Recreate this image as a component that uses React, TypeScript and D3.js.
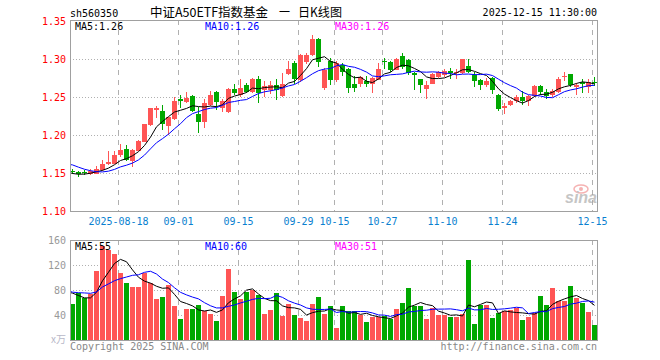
import React from "react";
import * as d3 from "d3";

const dates = [
  "08-06","08-07","08-08","08-11","08-12","08-13","08-14","08-15","08-18","08-19","08-20","08-21","08-22","08-25","08-26","08-27","08-28","08-29",
  "09-01","09-02","09-03","09-04","09-05","09-08","09-09","09-10","09-11","09-12","09-15","09-16","09-17","09-18","09-19","09-22","09-23","09-24","09-25","09-26","09-29","09-30",
  "10-09","10-10","10-13","10-14","10-15","10-16","10-17","10-20","10-21","10-22","10-23","10-24","10-27","10-28","10-29","10-30","10-31",
  "11-03","11-04","11-05","11-06","11-07","11-10","11-11","11-12","11-13","11-14","11-17","11-18","11-19","11-20","11-21","11-24","11-25","11-26","11-27","11-28",
  "12-01","12-02","12-03","12-04","12-05","12-08","12-09","12-10","12-11","12-12","12-15",
];

const open = [
  1.1531,1.1513,1.1518,1.1496,1.1504,1.1548,1.1627,1.1636,1.1746,1.1811,
  1.1671,1.1803,1.1921,1.2140,1.2338,1.2311,1.2127,1.2228,1.2474,1.2447,
  1.2513,1.2272,1.2184,1.2404,1.2566,1.2370,1.2316,1.2610,1.2544,1.2654,
  1.2579,1.2741,1.2601,1.2610,1.2654,1.2522,1.2811,1.2952,1.2732,1.2974,
  1.3061,1.3268,1.2636,1.2974,1.2741,1.2917,1.2873,1.2667,1.2689,1.2711,
  1.2680,1.2741,1.2978,1.2961,1.2873,1.3039,1.2987,1.2820,1.2732,1.2623,
  1.2689,1.2776,1.2798,1.2838,1.2825,1.2829,1.2908,1.2785,1.2724,1.2675,
  1.2754,1.2522,1.2368,1.2404,1.2460,1.2500,1.2460,1.2526,1.2645,1.2570,
  1.2535,1.2579,1.2772,1.2798,1.2649,1.2697,1.2645,1.2702,
];
const high = [
  1.1557,1.1530,1.1540,1.1550,1.1592,1.1670,1.1785,1.1785,1.1877,1.1864,
  1.1810,1.1940,1.2150,1.2360,1.2380,1.2390,1.2240,1.2500,1.2522,1.2566,
  1.2522,1.2373,1.2470,1.2579,1.2575,1.2470,1.2618,1.2667,1.2741,1.2680,
  1.2750,1.2776,1.2711,1.2711,1.2741,1.2811,1.2969,1.2974,1.3061,1.3075,
  1.3311,1.3276,1.2886,1.3018,1.2974,1.2952,1.2886,1.2776,1.2776,1.2776,
  1.2763,1.2943,1.3018,1.2974,1.3018,1.3075,1.2996,1.2829,1.2741,1.2711,
  1.2820,1.2842,1.2864,1.2886,1.2864,1.3004,1.3004,1.2829,1.2741,1.2754,
  1.2763,1.2535,1.2425,1.2456,1.2522,1.2579,1.2522,1.2654,1.2654,1.2610,
  1.2610,1.2763,1.2833,1.2807,1.2689,1.2732,1.2741,1.2763,
];
const low = [
  1.1496,1.1461,1.1490,1.1490,1.1500,1.1540,1.1620,1.1630,1.1730,1.1670,
  1.1590,1.1800,1.1917,1.2130,1.2240,1.2083,1.2018,1.2215,1.2368,1.2438,
  1.2310,1.2039,1.2110,1.2395,1.2346,1.2320,1.2307,1.2535,1.2513,1.2566,
  1.2570,1.2434,1.2513,1.2557,1.2478,1.2513,1.2798,1.2689,1.2711,1.2952,
  1.3048,1.2908,1.2610,1.2667,1.2711,1.2785,1.2566,1.2579,1.2645,1.2645,
  1.2566,1.2732,1.2886,1.2842,1.2864,1.2886,1.2798,1.2610,1.2566,1.2491,
  1.2680,1.2768,1.2776,1.2754,1.2754,1.2820,1.2829,1.2645,1.2601,1.2645,
  1.2548,1.2325,1.2294,1.2395,1.2430,1.2404,1.2390,1.2513,1.2544,1.2482,
  1.2513,1.2566,1.2724,1.2645,1.2544,1.2566,1.2566,1.2654,
];
const close = [
  1.1522,1.1500,1.1509,1.1526,1.1557,1.1614,1.1649,1.1732,1.1803,1.1680,
  1.1803,1.1917,1.2140,1.2351,1.2360,1.2154,1.2237,1.2443,1.2465,1.2482,
  1.2329,1.2184,1.2417,1.2522,1.2447,1.2450,1.2610,1.2566,1.2623,1.2579,
  1.2741,1.2566,1.2645,1.2654,1.2601,1.2675,1.2873,1.2754,1.3048,1.3048,
  1.3259,1.2974,1.2855,1.2732,1.2952,1.2842,1.2636,1.2636,1.2768,1.2689,
  1.2754,1.2873,1.2969,1.2873,1.3004,1.2908,1.2829,1.2798,1.2667,1.2654,
  1.2798,1.2829,1.2842,1.2825,1.2833,1.2996,1.2842,1.2724,1.2675,1.2711,
  1.2610,1.2351,1.2377,1.2447,1.2504,1.2456,1.2513,1.2645,1.2579,1.2526,
  1.2579,1.2741,1.2781,1.2667,1.2658,1.2680,1.2697,1.2693,
];
const volume = [
  58,76,68,74,110,150,144,138,107,91,
  85,85,107,91,66,69,88,55,34,50,
  50,56,46,42,31,70,113,77,66,77,
  80,72,42,48,76,39,58,40,36,31,
  58,69,42,55,20,55,47,47,40,29,
  37,37,39,34,50,60,84,55,55,34,
  51,40,40,37,37,42,128,26,56,56,
  35,43,47,48,51,32,37,43,70,56,
  83,62,62,86,67,59,45,24,
];

// closes / volumes of the 29 sessions before the window (needed for MA warm-up)
const priorCloses = [
  1.108,1.110,1.112,1.115,1.117,1.120,1.124,
  1.128,1.130,1.133,1.135,1.138,1.140,1.142,1.144,1.146,1.149,1.152,1.156,1.163,
  1.180,1.178,1.172,1.168,1.165,1.155,1.150,1.147,1.146,
];
const priorVolumes = [
  72,85,78,70,88,82,76,84,
  90,105,98,88,110,95,102,92,86,100,94,90,
  85,72,80,88,70,95,87,74,65,
];

const tickDates = ["08-18","09-01","09-15","09-29","10-15","10-27","11-10","11-24","12-15"];
const tickLabels = ["2025-08-18","09-01","09-15","09-29","10-15","10-27","11-10","11-24","12-15"];
const priceTicks = [1.10, 1.15, 1.20, 1.25, 1.30, 1.35];
const volumeTicks = [40, 80, 120, 160];
const maPeriods = [5, 10, 30];
const priceMaLabels = ["MA5:1.26", "MA10:1.26", "MA30:1.26"];
const volumeMaLabels = ["MA5:55", "MA10:60", "MA30:51"];
const titleParts = ["中证A50ETF指数基金", "一", "日K线图"];

const MONO = "'DejaVu Sans Mono', monospace";
const CJK = "'Noto Sans CJK SC', sans-serif";
const RED = "#ff5555";
const GREEN = "#00a800";
const MA_COLORS = ["#000000", "#0000ff", "#ff00ff"];
const BORDER = "#a0a0a0";
const GRID = "#b0b0b0";

const L = 70, R = 597;
const PT = 20, PB = 211;
const VT = 240, VB = 340;

function movingAverage(prior: number[], data: number[], n: number) {
  const all = prior.concat(data);
  const off = prior.length;
  const out: { k: number; v: number }[] = [];
  for (let k = -1; k < data.length; k++) {
    const end = off + k;
    const slice = all.slice(end - n + 1, end + 1);
    out.push({ k, v: d3.mean(slice) as number });
  }
  return out;
}

export default function App() {
  const n = dates.length;
  const x = d3.scaleBand<number>().domain(d3.range(n)).range([L, R]).paddingInner(1 / 6).paddingOuter(0);
  const step = x.step();
  const bw = x.bandwidth();
  const cx = (k: number) => (x(0) as number) + k * step + bw / 2;
  const yP = d3.scaleLinear().domain([1.10, 1.35]).range([PB + 0.5, PT + 1.5]);
  const yV = d3.scaleLinear().domain([0, 160]).range([VB + 0.5, VT + 0.5]);

  const priceMA = maPeriods.map((p) => movingAverage(priorCloses, close, p));
  const volMA = maPeriods.map((p) => movingAverage(priorVolumes, volume, p));
  const lineP = d3.line<{ k: number; v: number }>().x((d) => cx(d.k)).y((d) => yP(d.v));
  const lineV = d3.line<{ k: number; v: number }>().x((d) => cx(d.k)).y((d) => yV(d.v));

  const tickIdx = tickDates.map((t) => dates.indexOf(t));
  const titleX = [150, 279, 298];
  const titleW = [118, 11, 44];

  return (
    <svg width={660} height={360} style={{ position: "absolute", left: 0, top: 0, background: "#fff" }}>
      <defs>
        <clipPath id="clipP"><rect x={L + 1} y={PT + 1} width={R - L - 1} height={PB - PT - 1} /></clipPath>
        <clipPath id="clipV"><rect x={L + 1} y={VT + 1} width={R - L - 1} height={VB - VT - 1} /></clipPath>
      </defs>

      {/* header */}
      <text x={70} y={16.5} fontFamily={MONO} fontSize={10} fill="#000">sh560350</text>
      {titleParts.map((s, j) => (
        <text key={"t" + j} x={titleX[j]} y={17} fontFamily={CJK} fontSize={12.5} fill="#000"
          textLength={titleW[j]} lengthAdjust="spacingAndGlyphs">{s}</text>
      ))}
      <text x={597} y={16} fontFamily={MONO} fontSize={10} fill="#000" textAnchor="end">2025-12-15 11:30:00</text>

      {/* price panel grid */}
      {priceTicks.filter((t) => t > 1.1 && t < 1.35).map((t) => (
        <line key={"pg" + t} x1={L} x2={R} y1={Math.floor(yP(t)) + 0.5} y2={Math.floor(yP(t)) + 0.5}
          stroke={GRID} strokeDasharray="1,2" shapeRendering="crispEdges" />
      ))}
      {tickIdx.map((i, j) => (
        <line key={"pv" + j} x1={(x(i) as number) + 0.5} x2={(x(i) as number) + 0.5} y1={PT} y2={PB}
          stroke={GRID} strokeDasharray="5,5" shapeRendering="crispEdges" />
      ))}
      {priceTicks.map((t) => (
        <text key={"pl" + t} x={66} y={yP(t) + 3.6} fontFamily={MONO} fontSize={10} fill="#ff0000" textAnchor="end">
          {t.toFixed(2)}
        </text>
      ))}
      {tickIdx.map((i, j) => (
        <text key={"xl" + j} x={(x(i) as number) + 0.5} y={225} fontFamily={MONO} fontSize={10} fill="#0a7fd0" textAnchor="middle">
          {tickLabels[j]}
        </text>
      ))}

      {/* sina watermark */}
      <g opacity={0.6}>
        <ellipse cx={581} cy={189} rx={7} ry={4} fill="none" stroke="#f08080" strokeWidth={1.5} />
        <circle cx={581} cy={189} r={2} fill="#f08080" />
        <text x={565} y={203} fontFamily="'Liberation Sans', sans-serif" fontWeight="bold" fontStyle="italic" fontSize={16} fill="#a0a0a0">sina</text>
      </g>

      {/* candles */}
      <g shapeRendering="crispEdges">
        {close.map((c, i) => {
          const o = open[i];
          const up = c >= o;
          const col = up ? RED : GREEN;
          const x0 = x(i) as number;
          const top = Math.round(yP(Math.max(o, c)) - 0.5);
          const bot = Math.round(yP(Math.min(o, c)) - 0.5);
          const hi = Math.round(yP(high[i]) - 0.5);
          const lo = Math.round(yP(low[i]) - 0.5);
          return (
            <g key={"c" + i}>
              <rect x={x0 + 2} y={hi} width={1} height={Math.max(1, lo - hi + 1)} fill={col} />
              <rect x={x0} y={top} width={bw} height={Math.max(1, bot - top + 1)} fill={col} />
            </g>
          );
        })}
      </g>
      <g clipPath="url(#clipP)" fill="none">
        {priceMA.map((m, j) => (
          <path key={"pm" + j} d={lineP(m) as string} stroke={MA_COLORS[j]} strokeWidth={1} />
        ))}
      </g>
      <rect x={L + 0.5} y={PT + 0.5} width={R - L} height={PB - PT} fill="none" stroke={BORDER} shapeRendering="crispEdges" />
      {priceMaLabels.map((s, j) => (
        <text key={"pml" + j} x={75 + 130 * j} y={29.5} fontFamily={MONO} fontSize={10} fill={MA_COLORS[j]}>{s}</text>
      ))}

      {/* volume panel */}
      {volumeTicks.filter((t) => t < 160).map((t) => (
        <line key={"vg" + t} x1={L} x2={R} y1={Math.floor(yV(t)) + 0.5} y2={Math.floor(yV(t)) + 0.5}
          stroke={GRID} strokeDasharray="1,2" shapeRendering="crispEdges" />
      ))}
      {tickIdx.map((i, j) => (
        <line key={"vv" + j} x1={(x(i) as number) + 0.5} x2={(x(i) as number) + 0.5} y1={VT} y2={VB}
          stroke={GRID} strokeDasharray="5,5" shapeRendering="crispEdges" />
      ))}
      {volumeTicks.map((t) => (
        <text key={"vl" + t} x={66} y={yV(t) + 3.6} fontFamily={MONO} fontSize={10} fill="#999" textAnchor="end">{t}</text>
      ))}
      <text x={66} y={343} fontFamily={CJK} fontSize={10} fill="#b8b8c8" textAnchor="end">x万</text>
      <g shapeRendering="crispEdges">
        {volume.map((v, i) => (
          <rect key={"v" + i} x={x(i) as number} y={Math.round(yV(v) - 0.5)} width={bw}
            height={VB - Math.round(yV(v) - 0.5)} fill={close[i] >= open[i] ? RED : GREEN} />
        ))}
      </g>
      <g clipPath="url(#clipV)" fill="none">
        {volMA.map((m, j) => (
          <path key={"vm" + j} d={lineV(m) as string} stroke={MA_COLORS[j]} strokeWidth={1} />
        ))}
      </g>
      <rect x={L + 0.5} y={VT + 0.5} width={R - L} height={VB - VT} fill="none" stroke={BORDER} shapeRendering="crispEdges" />
      {volumeMaLabels.map((s, j) => (
        <text key={"vml" + j} x={75 + 130 * j} y={250} fontFamily={MONO} fontSize={10} fill={MA_COLORS[j]}>{s}</text>
      ))}

      <text x={70} y={350} fontFamily={MONO} fontSize={10} fill="#888">Copyright 2025 SINA.COM</text>
      <text x={597} y={350} fontFamily={MONO} fontSize={10} fill="#888" textAnchor="end">http://finance.sina.com.cn</text>
    </svg>
  );
}
